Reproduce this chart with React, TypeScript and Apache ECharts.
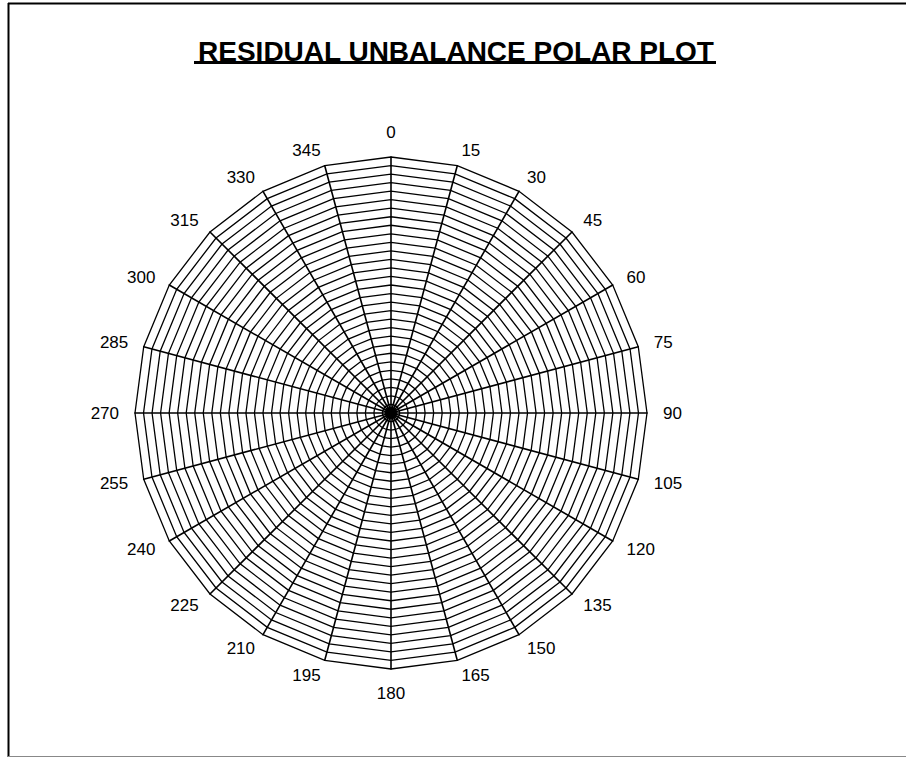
import React, { useEffect, useRef } from "react";
import * as echarts from "echarts";

const TITLE = "RESIDUAL UNBALANCE POLAR PLOT";
const ANGLES = [0, 15, 30, 45, 60, 75, 90, 105, 120, 135, 150, 165, 180, 195, 210, 225, 240, 255, 270, 285, 300, 315, 330, 345];
const RING_COUNT = 30;
const RING_MAX = 30;

export default function App() {
  const ref = useRef<HTMLDivElement>(null);
  useEffect(() => {
    if (!ref.current) return;
    const chart = echarts.init(ref.current, null, { renderer: "svg" });
    // ECharts radar places indicators counter-clockwise; reverse (keeping 0 first) for clockwise labels
    const ordered = [ANGLES[0], ...ANGLES.slice(1).reverse()];
    chart.setOption({
      animation: false,
      backgroundColor: "#ffffff",
      title: {
        text: TITLE,
        left: 451,
        textAlign: "center",
        top: 32,
        textStyle: { fontFamily: "Liberation Sans, Arial", fontWeight: "bold", fontSize: 28, color: "#000" },
      },
      graphic: [
        { type: "line", shape: { x1: 194, y1: 62.5, x2: 716, y2: 62.5 }, style: { stroke: "#000", lineWidth: 3 } },
        { type: "line", shape: { x1: 8.5, y1: 3, x2: 8.5, y2: 757 }, style: { stroke: "#000", lineWidth: 2 } },
        { type: "line", shape: { x1: 8, y1: 3.5, x2: 906, y2: 3.5 }, style: { stroke: "#000", lineWidth: 2 } },
        { type: "line", shape: { x1: 8, y1: 756.5, x2: 906, y2: 756.5 }, style: { stroke: "#888", lineWidth: 1 } },
        { type: "circle", shape: { cx: 391, cy: 413, r: 6 }, style: { fill: "#000" }, z: 10 },
      ],
      radar: {
        center: [391, 413],
        radius: 256,
        startAngle: 90,
        shape: "polygon",
        splitNumber: RING_COUNT,
        indicator: ordered.map((a) => ({ name: String(a), min: 0, max: RING_MAX })),
        axisName: { color: "#000", fontFamily: "Liberation Sans, Arial", fontSize: 17 },
        nameGap: 16,
        axisLine: { lineStyle: { color: "#000", width: 1.6 } },
        splitLine: { lineStyle: { color: "#000", width: 1.3 } },
        splitArea: { show: false },
      },
      series: [{ type: "radar", data: [] }],
    });
    return () => chart.dispose();
  }, []);
  return <div ref={ref} style={{ position: "fixed", left: 0, top: 0, width: 906, height: 757 }} />;
}
